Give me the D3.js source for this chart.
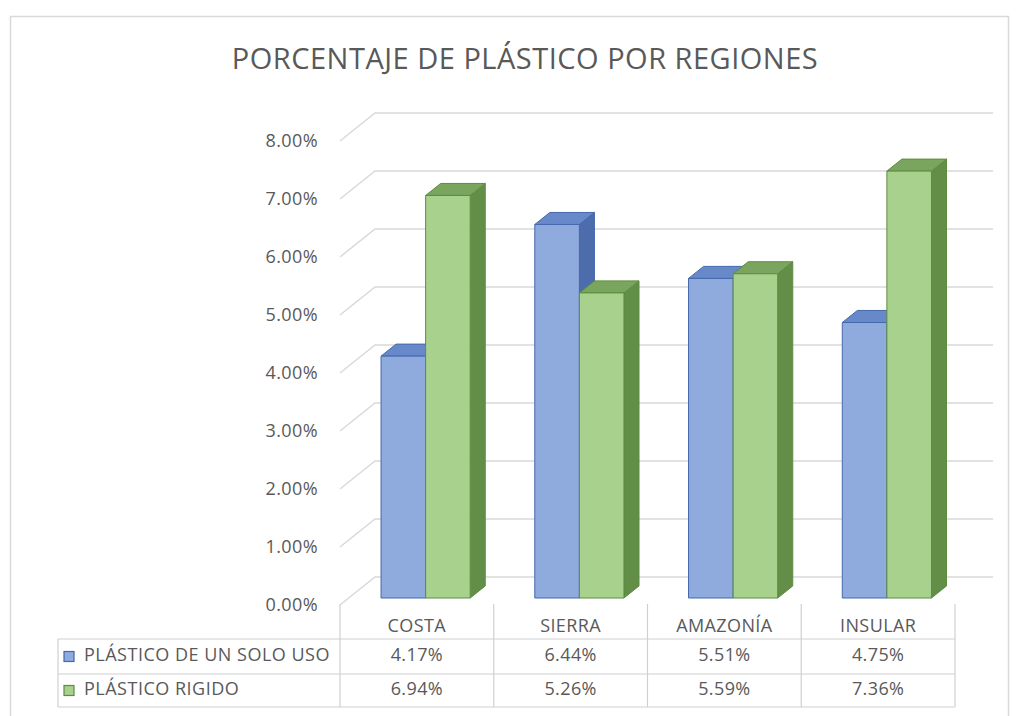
<!DOCTYPE html>
<html>
<head>
<meta charset="utf-8">
<script src="https://cdn.jsdelivr.net/npm/d3@7"></script>
<style>
  html, body { margin: 0; padding: 0; background: #ffffff; }
  svg { display: block; }
  text { font-family: "Open Sans", "Noto Sans", sans-serif; fill: #595959; }
</style>
</head>
<body>
<svg id="chart" width="1018" height="716"></svg>
<script>
// Regions and percentage values for each kind of plastic
const categories = ["COSTA", "SIERRA", "AMAZONÍA", "INSULAR"];
const seriesNames = ["PLÁSTICO DE UN SOLO USO", "PLÁSTICO RIGIDO"];
const singleUse = [4.17, 6.44, 5.51, 4.75];
const rigid = [6.94, 5.26, 5.59, 7.36];
const yTicks = [0, 1, 2, 3, 4, 5, 6, 7, 8];
const title = "PORCENTAJE DE PLÁSTICO POR REGIONES";

const seriesValues = [singleUse, rigid];
const palette = [
  { front: "#8faadc", top: "#6889c9", side: "#4d6cab", stroke: "#4468ad" },
  { front: "#a9d18e", top: "#7aa55e", side: "#638e48", stroke: "#5d8c40" }
];

const svg = d3.select("#chart");
const fmt = v => v.toFixed(2) + "%";

// Outer chart frame
svg.append("rect")
  .attr("x", 10.5).attr("y", 16.5)
  .attr("width", 998).attr("height", 720)
  .attr("fill", "#ffffff").attr("stroke", "#d9d9d9").attr("stroke-width", 1.5);

svg.append("text")
  .attr("x", 525).attr("y", 61)
  .attr("text-anchor", "middle").attr("dominant-baseline", "middle")
  .style("font-size", "29px").style("letter-spacing", "0.5px")
  .text(title);

// Plot geometry: front plane of the floor and oblique depth offset
const left = 340, right = 955;
const depthX = 35, depthY = -28;
const y = d3.scaleLinear().domain([0, 8]).range([605, 141]);
const x = d3.scaleBand().domain(categories).range([left, right]).paddingInner(0).paddingOuter(0);

// project a front-plane point to a given depth fraction
const proj = (px, v, d) => [px + d * depthX, y(v) + d * depthY];

// Gridlines: side wall diagonals and back wall horizontals
const grid = svg.append("g").attr("stroke", "#d9d9d9").attr("stroke-width", 1.5).attr("fill", "none");
yTicks.forEach(t => {
  const a = proj(left, t, 0), b = proj(left, t, 1), c = proj(right, t, 1);
  grid.append("path").attr("d", `M${a[0]},${a[1]}L${b[0]},${b[1]}L${c[0] + 3},${c[1]}`);
});

// Y axis labels
svg.append("g").selectAll("text").data(yTicks).join("text")
  .attr("x", 318).attr("y", d => y(d) + 1)
  .attr("text-anchor", "end").attr("dominant-baseline", "middle")
  .style("font-size", "18px").style("letter-spacing", "0.4px")
  .text(d => fmt(d));

// 3D columns
const barWidth = x.bandwidth() * 0.29;
const inner = d3.scaleBand().domain(d3.range(seriesNames.length)).range([0, barWidth * seriesNames.length]);
const d0 = 0.25, d1 = 0.68;
const bars = svg.append("g");
categories.forEach((cat, i) => {
  const groupLeft = x(cat) + x.bandwidth() / 2 - barWidth * seriesNames.length / 2;
  seriesValues.forEach((vals, s) => {
    const v = vals[i];
    const xl = groupLeft + inner(s), xr = xl + inner.bandwidth();
    const col = palette[s];
    const fbl = proj(xl, 0, d0), fbr = proj(xr, 0, d0), ftl = proj(xl, v, d0), ftr = proj(xr, v, d0);
    const btl = proj(xl, v, d1), btr = proj(xr, v, d1), bbr = proj(xr, 0, d1);
    const g = bars.append("g").attr("stroke", col.stroke).attr("stroke-width", 1).attr("stroke-linejoin", "round");
    g.append("path").attr("fill", col.side)
      .attr("d", `M${fbr}L${ftr}L${btr}L${bbr}Z`);
    g.append("path").attr("fill", col.top)
      .attr("d", `M${ftl}L${ftr}L${btr}L${btl}Z`);
    g.append("path").attr("fill", col.front)
      .attr("d", `M${fbl}L${ftl}L${ftr}L${fbr}Z`);
  });
});

// Data table beneath the plot
const rowTop = 604, row1 = 639, row2 = 674, rowBottom = 707, legendLeft = 58;
const tbl = svg.append("g").attr("stroke", "#d0d0d0").attr("stroke-width", 1.2).attr("fill", "none");
[row1, row2, rowBottom].forEach(yy => tbl.append("line").attr("x1", legendLeft).attr("x2", right).attr("y1", yy).attr("y2", yy));
tbl.append("line").attr("x1", legendLeft).attr("x2", legendLeft).attr("y1", row1).attr("y2", rowBottom);
[left, ...categories.map(c => x(c) + x.bandwidth())].forEach(xx =>
  tbl.append("line").attr("x1", xx).attr("x2", xx).attr("y1", rowTop).attr("y2", rowBottom));

svg.append("g").selectAll("text").data(categories).join("text")
  .attr("x", d => x(d) + x.bandwidth() / 2).attr("y", 627)
  .attr("text-anchor", "middle").attr("dominant-baseline", "middle")
  .style("font-size", "18px").style("letter-spacing", "0.4px")
  .text(d => d);

const rowsY = [row1, row2];
seriesNames.forEach((name, s) => {
  const cy = (rowsY[s] + (s === 0 ? row2 : rowBottom)) / 2;
  svg.append("rect")
    .attr("x", 64).attr("y", cy - 5).attr("width", 10).attr("height", 10)
    .attr("fill", palette[s].front).attr("stroke", palette[s].stroke).attr("stroke-width", 1.2);
  svg.append("text")
    .attr("x", 84).attr("y", cy)
    .attr("dominant-baseline", "middle")
    .style("font-size", "18px").style("letter-spacing", "0.5px")
    .text(name);
  svg.append("g").selectAll("text").data(seriesValues[s]).join("text")
    .attr("x", (d, i) => x(categories[i]) + x.bandwidth() / 2).attr("y", cy)
    .attr("text-anchor", "middle").attr("dominant-baseline", "middle")
    .style("font-size", "18px").style("letter-spacing", "0.4px")
    .text(d => fmt(d));
});
</script>
</body>
</html>
